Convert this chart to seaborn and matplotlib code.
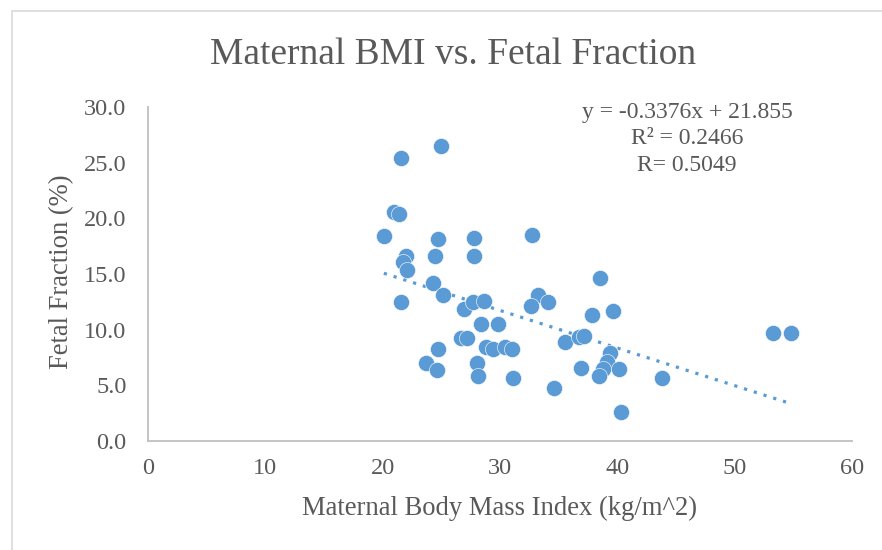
import numpy as np
import pandas as pd
import seaborn as sns
import matplotlib.pyplot as plt
from matplotlib.patches import Rectangle

# values
bmi = [25.0, 21.6, 21.0, 21.4, 20.1, 24.7, 27.8, 32.7, 22.0, 24.5,
       27.8, 21.7, 22.1, 24.3, 25.1, 21.6, 38.5, 33.2, 34.1, 32.6,
       39.6, 37.8, 53.3, 54.8, 35.5, 36.7, 37.2, 39.4, 39.1, 38.8,
       38.4, 40.1, 36.9, 43.8, 40.3, 26.9, 27.7, 28.6, 28.4, 29.8,
       26.7, 27.2, 28.8, 29.4, 30.4, 31.0, 24.7, 23.7, 24.6, 28.0,
       28.1, 31.1, 34.6]
fetal_fraction = [26.5, 25.4, 20.6, 20.4, 18.4, 18.1, 18.2, 18.5, 16.6, 16.6,
                  16.6, 16.1, 15.4, 14.2, 13.1, 12.5, 14.6, 13.1, 12.5, 12.1,
                  11.7, 11.3, 9.7, 9.7, 8.9, 9.3, 9.4, 7.9, 7.1, 6.5,
                  5.8, 6.5, 6.6, 5.7, 2.6, 11.9, 12.5, 12.6, 10.5, 10.5,
                  9.25, 9.25, 8.45, 8.3, 8.45, 8.3, 8.3, 7.0, 6.4, 7.0,
                  5.8, 5.7, 4.8]
slope = -0.3376
intercept = 21.855
x_ticks = [0, 10, 20, 30, 40, 50, 60]
y_ticks = [0, 5, 10, 15, 20, 25, 30]

df = pd.DataFrame({"BMI": bmi, "FF": fetal_fraction})

blue = "#5B9BD5"
grey_txt = "#595959"
serif = "Liberation Serif"

sns.set_style("white")
plt.rcParams["font.family"] = [serif, "DejaVu Serif"]

fig = plt.figure(figsize=(8.82, 5.5), dpi=100)
ax = fig.add_axes([148 / 882, 1 - 441 / 550, (852 - 148) / 882, (441 - 107) / 550])

# chart border (only left/top visible in the reference)
fig.patches.append(Rectangle((12 / 882, -0.05), 1.1, 1 - 11 / 550 + 0.05,
                             transform=fig.transFigure, fill=False,
                             edgecolor="#D9D9D9", linewidth=1.2))

sns.scatterplot(data=df, x="BMI", y="FF", ax=ax, color=blue, s=135,
                edgecolor="white", linewidth=0.4, zorder=3)

# linear trendline (dotted)
xs = np.array([min(bmi), max(bmi)])
ax.plot(xs, slope * xs + intercept, linestyle=(0, (1, 2.2)), color=blue,
        linewidth=2.3, zorder=2)

ax.set_xlim(0, 60)
ax.set_ylim(0, 30)
ax.set_xticks(x_ticks)
ax.set_yticks(y_ticks)
ax.set_yticklabels([f"{v:.1f}" for v in y_ticks])
ax.set_xlabel("")
ax.set_ylabel("")
ax.tick_params(axis="both", length=0, labelsize=17.5, labelcolor=grey_txt)
ax.tick_params(axis="y", pad=15.5)
ax.tick_params(axis="x", pad=12)

for side in ["top", "right"]:
    ax.spines[side].set_visible(False)
for side in ["left", "bottom"]:
    ax.spines[side].set_color("#BFBFBF")
    ax.spines[side].set_linewidth(1.3)

fig.text(500 / 882, 1 - 508 / 550, "Maternal Body Mass Index (kg/m^2)",
         ha="center", va="center", fontsize=19.2, color=grey_txt)
fig.text(62 / 882, 1 - 272 / 550, "Fetal Fraction (%)", rotation=90,
         ha="center", va="center", fontsize=19.2, color=grey_txt)

fig.text(453 / 882, 1 - 55 / 550, "Maternal BMI vs. Fetal Fraction",
         ha="center", va="center", fontsize=27, color=grey_txt)

fig.text(687 / 882, 1 - 102 / 550, "y = -0.3376x + 21.855\nR² = 0.2466\nR= 0.5049",
         ha="center", va="top", fontsize=17, color=grey_txt, linespacing=1.33)

fig.savefig("out.png", dpi=100)
